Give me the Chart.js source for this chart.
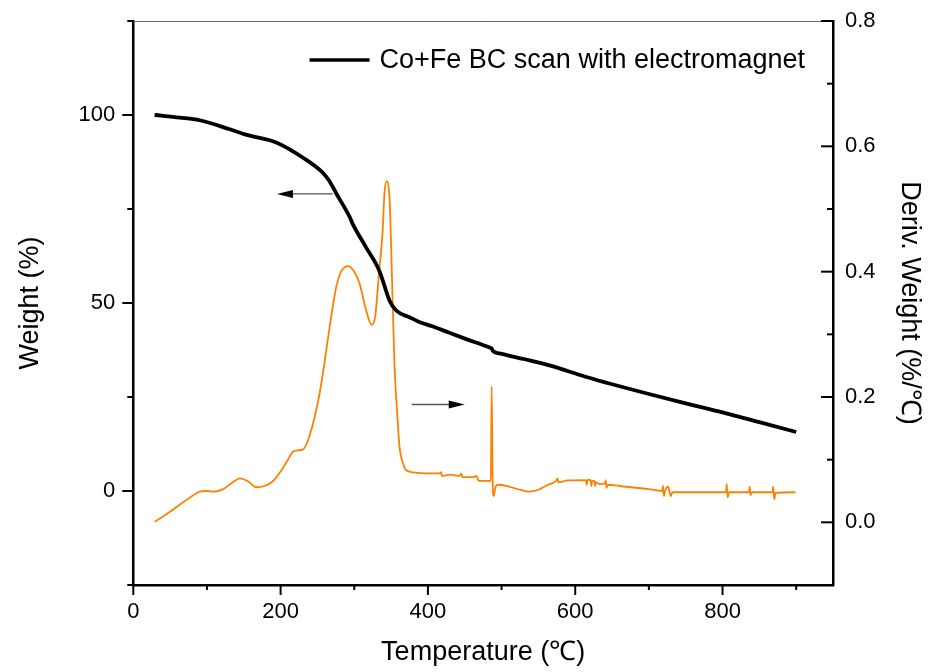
<!DOCTYPE html>
<html><head><meta charset="utf-8">
<script src="https://cdn.jsdelivr.net/npm/chart.js@4.4.0/dist/chart.umd.min.js"></script>
<style>html,body{margin:0;padding:0;background:#fff}#wrap{width:930px;height:672px;position:relative}</style>
</head><body><div id="wrap"><canvas id="c"></canvas></div>
<script>
// ---- data ----
const seriesWeightLabel = 'Co+Fe BC scan with electromagnet';
const weightTemp = [29, 63, 90, 131, 154, 194, 230, 257, 266, 276, 294, 298, 316, 334, 348, 357, 375, 389, 406, 430, 452, 483, 487, 488, 497, 530, 565, 614, 650, 700, 750, 800, 850, 900];
const weightVal  = [100, 99.3, 98.6, 96.2, 94.7, 92.7, 88.7, 84.7, 82.5, 79.0, 72.8, 71.0, 64.8, 58.6, 50.6, 48.0, 46.2, 44.9, 43.8, 42.0, 40.4, 38.2, 37.8, 37.3, 36.6, 35.1, 33.4, 30.4, 28.4, 25.8, 23.3, 20.9, 18.3, 15.7];

const derivTemp = [29, 45, 63, 80, 90, 100, 110, 122, 135, 145, 155, 167, 178, 190, 200, 210, 217, 224, 230, 239, 253, 260, 266.6, 275.6, 283, 292, 300, 307, 316, 323.5, 328, 334, 338.4, 341, 344, 348, 351, 354.7, 358, 361.4, 366, 370.5, 386, 400, 415.6, 418, 419, 430, 443, 445, 447, 461, 466, 468, 470, 483.4, 485.5, 486.5, 488, 489.5, 491.5, 495, 510, 525, 537.7, 550, 563, 574, 576, 577, 590, 614.5, 615.5, 617, 621, 622, 623, 626, 627, 628, 632.6, 640.7, 641.3, 642.5, 644, 660, 700, 718, 719, 720.5, 722, 726, 729.7, 732, 760, 804.8, 805.6, 807, 809, 836, 836.8, 838, 840, 868, 868.8, 870.3, 872, 899];
const derivVal  = [0.001, 0.013, 0.028, 0.042, 0.049, 0.050, 0.049, 0.053, 0.064, 0.070, 0.066, 0.056, 0.058, 0.066, 0.081, 0.100, 0.113, 0.115, 0.116, 0.137, 0.206, 0.258, 0.312, 0.376, 0.402, 0.409, 0.400, 0.382, 0.339, 0.315, 0.325, 0.403, 0.462, 0.525, 0.544, 0.514, 0.400, 0.248, 0.180, 0.121, 0.095, 0.083, 0.079, 0.078, 0.078, 0.080, 0.074, 0.076, 0.074, 0.078, 0.072, 0.072, 0.074, 0.068, 0.066, 0.066, 0.066, 0.217, 0.060, 0.042, 0.055, 0.060, 0.057, 0.052, 0.049, 0.052, 0.060, 0.066, 0.070, 0.064, 0.067, 0.0675, 0.060, 0.068, 0.067, 0.058, 0.066, 0.066, 0.058, 0.064, 0.061, 0.062, 0.0675, 0.055, 0.060, 0.058, 0.053, 0.050, 0.058, 0.042, 0.050, 0.057, 0.042, 0.048, 0.048, 0.048, 0.061, 0.040, 0.048, 0.048, 0.057, 0.0436, 0.048, 0.048, 0.057, 0.037, 0.047, 0.048];

const xMajorTicks = [0, 200, 400, 600, 800];
const xMinorTicks = [100, 300, 500, 700, 900];
const weightMajorTicks = [0, 50, 100];
const weightMinorTicks = [-25, 25, 75, 125];
const derivMajorTicks = [0, 0.2, 0.4, 0.6, 0.8];
const derivMinorTicks = [0.1, 0.3, 0.5, 0.7];

// annotation arrows, in data units
const arrowToWeight = { fromX: 271, toX: 195, y: 79 };     // left axis
const arrowToDeriv  = { fromX: 378, toX: 450, y: 0.188 };  // right axis

// ---- chart ----
const FONT = "'Liberation Sans', Arial, sans-serif";
const toPts = (xs, ys) => xs.map((x, i) => ({ x: x, y: ys[i] }));

const decor = {
  id: 'decor',
  afterDraw(chart) {
    const ctx = chart.ctx, a = chart.chartArea;
    const sx = chart.scales.x, sl = chart.scales.y, sr = chart.scales.y1;
    ctx.save();
    ctx.strokeStyle = '#666'; ctx.lineWidth = 1;
    ctx.beginPath(); ctx.moveTo(a.left, a.top + 0.5); ctx.lineTo(a.right, a.top + 0.5); ctx.stroke();
    ctx.strokeStyle = '#000'; ctx.lineWidth = 2;
    const seg = (x1, y1, x2, y2) => { ctx.beginPath(); ctx.moveTo(x1, y1); ctx.lineTo(x2, y2); ctx.stroke(); };
    xMajorTicks.forEach(v => { const p = sx.getPixelForValue(v); seg(p, a.bottom, p, a.bottom + 10); });
    xMinorTicks.forEach(v => { const p = sx.getPixelForValue(v); seg(p, a.bottom, p, a.bottom + 5); });
    weightMajorTicks.forEach(v => { const p = sl.getPixelForValue(v); seg(a.left - 11, p, a.left, p); });
    weightMinorTicks.forEach(v => { const p = sl.getPixelForValue(v); seg(a.left - 6, p, a.left, p); });
    derivMajorTicks.forEach(v => { const p = sr.getPixelForValue(v); seg(a.right - 12, p, a.right, p); });
    derivMinorTicks.forEach(v => { const p = sr.getPixelForValue(v); seg(a.right - 6, p, a.right, p); });
    const arrow = (x1, x2, y) => {
      ctx.strokeStyle = '#555'; ctx.lineWidth = 1.3;
      const dir = Math.sign(x2 - x1);
      seg(x1, y, x2 - dir * 10, y);
      ctx.fillStyle = '#000';
      ctx.beginPath(); ctx.moveTo(x2, y); ctx.lineTo(x2 - dir * 16, y - 4); ctx.lineTo(x2 - dir * 16, y + 4); ctx.closePath(); ctx.fill();
    };
    arrow(sx.getPixelForValue(arrowToWeight.fromX), sx.getPixelForValue(arrowToWeight.toX), sl.getPixelForValue(arrowToWeight.y));
    arrow(sx.getPixelForValue(arrowToDeriv.fromX), sx.getPixelForValue(arrowToDeriv.toX), sr.getPixelForValue(arrowToDeriv.y));
    // legend (first dataset only)
    const ds = chart.data.datasets[0];
    ctx.font = '27px ' + FONT;
    ctx.fillStyle = '#000'; ctx.textBaseline = 'middle'; ctx.textAlign = 'left';
    const tw = ctx.measureText(ds.label).width;
    const tx = a.right - 28 - tw, ty = a.top + 40;
    ctx.fillText(ds.label, tx, ty);
    ctx.strokeStyle = ds.borderColor; ctx.lineWidth = 3.5;
    seg(tx - 70, ty - 1, tx - 10, ty - 1);
    ctx.restore();
  }
};

const noPad = s => { s.paddingTop = 0; s.paddingBottom = 0; s.paddingLeft = 0; s.paddingRight = 0; };
const axisCommon = (extra) => Object.assign({
  type: 'linear',
  grid: { display: false, drawOnChartArea: false, drawTicks: false },
  border: { display: true, color: '#000', width: 2.5 },
}, extra);

new Chart(document.getElementById('c'), {
  type: 'line',
  data: {
    datasets: [
      { label: seriesWeightLabel, data: toPts(weightTemp, weightVal), yAxisID: 'y',
        borderColor: '#000', backgroundColor: '#000', borderWidth: 3.8, pointRadius: 0, cubicInterpolationMode: 'monotone' },
      { label: 'Deriv. Weight', data: toPts(derivTemp, derivVal), yAxisID: 'y1',
        borderColor: '#ff8000', backgroundColor: '#ff8000', borderWidth: 1.8, pointRadius: 0, cubicInterpolationMode: 'monotone' }
    ]
  },
  options: {
    responsive: true, maintainAspectRatio: false, animation: false, devicePixelRatio: 1,
    layout: { padding: { top: 21, left: 0, right: 0, bottom: 0 } },
    plugins: {
      tooltip: { enabled: false },
      legend: { display: false }
    },
    scales: {
      x: axisCommon({
        position: 'bottom', min: 0, max: 950,
        afterBuildTicks: s => { s.ticks = xMajorTicks.map(v => ({ value: v })); },
        afterFit: s => { s.height = 87; noPad(s); },
        ticks: { font: { family: FONT, size: 22 }, color: '#000', padding: 14, maxRotation: 0, autoSkip: false },
        title: { display: true, text: 'Temperature (℃)', font: { family: FONT, size: 27 }, color: '#000', padding: { top: 0, bottom: 3 } }
      }),
      y: axisCommon({
        position: 'left', min: -25, max: 125,
        afterBuildTicks: s => { s.ticks = weightMajorTicks.map(v => ({ value: v })); },
        afterFit: s => { s.width = 133.3; noPad(s); },
        ticks: { font: { family: FONT, size: 22 }, color: '#000', padding: 18, autoSkip: false },
        title: { display: true, text: 'Weight (%)', font: { family: FONT, size: 27 }, color: '#000', padding: { top: 14, bottom: 0 } }
      }),
      y1: axisCommon({
        position: 'right', min: -0.1, max: 0.8,
        afterBuildTicks: s => { s.ticks = derivMajorTicks.map(v => ({ value: v })); },
        afterFit: s => { s.width = 97; noPad(s); },
        ticks: { font: { family: FONT, size: 22 }, color: '#000', padding: 12, autoSkip: false, callback: v => Number(v).toFixed(1) },
        title: { display: true, text: 'Deriv. Weight (%/℃)', font: { family: FONT, size: 27 }, color: '#000', padding: { top: 4, bottom: 0 } }
      })
    }
  },
  plugins: [decor]
});
</script>
</body></html>
